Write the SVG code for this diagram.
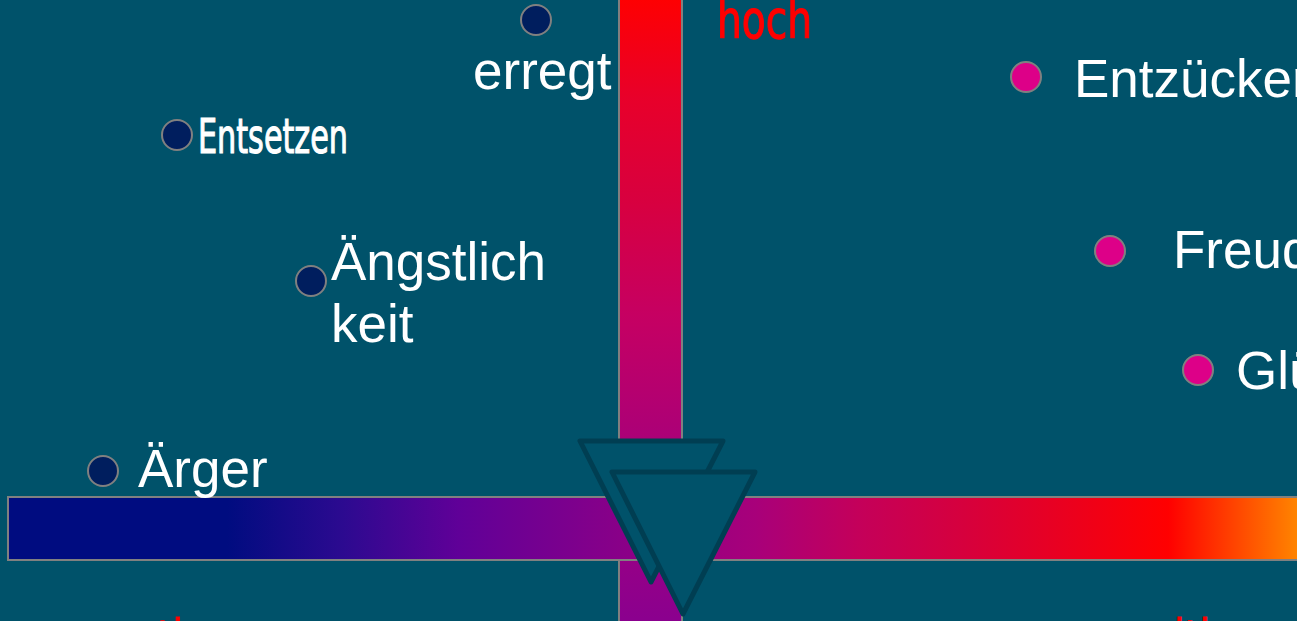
<svg xmlns="http://www.w3.org/2000/svg" width="1297" height="621" viewBox="0 0 1297 621">
<defs>
<linearGradient id="gv" x1="0" y1="0" x2="0" y2="1">
<stop offset="0" stop-color="#FF0000"/>
<stop offset="0.16" stop-color="#E8002A"/>
<stop offset="0.32" stop-color="#D8003F"/>
<stop offset="0.5" stop-color="#C60062"/>
<stop offset="0.7" stop-color="#AA0078"/>
<stop offset="1" stop-color="#880090"/>
</linearGradient>
<linearGradient id="gh" gradientUnits="userSpaceOnUse" x1="8" y1="0" x2="1297" y2="0">
<stop offset="0" stop-color="#000C80"/>
<stop offset="0.17" stop-color="#000C80"/>
<stop offset="0.26" stop-color="#2C0A90"/>
<stop offset="0.35" stop-color="#600098"/>
<stop offset="0.46" stop-color="#84008A"/>
<stop offset="0.58" stop-color="#A8007A"/>
<stop offset="0.66" stop-color="#C4005A"/>
<stop offset="0.75" stop-color="#D8003A"/>
<stop offset="0.9" stop-color="#FF0000"/>
<stop offset="1" stop-color="#FF8400"/>
</linearGradient>
<style>
.lbl{font-family:"Liberation Sans",Arial,sans-serif;font-size:53px;fill:#FFFFFF}
.cond{font-family:"DejaVu Sans Condensed","DejaVu Sans",sans-serif;font-stretch:condensed;font-weight:normal;stroke-width:1.1}
.red{fill:#FF0000;stroke:#FF0000}
.wht{fill:#FFFFFF;stroke:#FFFFFF}
.neg{fill:#001E5E;stroke:#808080;stroke-width:2}
.pos{fill:#DD0088;stroke:#808080;stroke-width:2}
.bar{stroke:#808080;stroke-width:2}
.tri{fill:#00526A;stroke:#003E52;stroke-width:5;stroke-linejoin:round}
</style>
</defs>
<rect x="0" y="0" width="1297" height="621" fill="#00526A"/>
<g id="connectors">
<rect class="bar" x="619" y="-5" width="63" height="640" fill="url(#gv)"/>
<rect class="bar" x="8" y="497" width="1300" height="63" fill="url(#gh)"/>
<polygon class="tri" points="580,441 723,441 651,582"/>
<polygon class="tri" points="612,472 755,472 683,614"/>
</g>
<g id="axis-hoch"><text class="cond red" x="717" y="38" font-size="54" textLength="95" lengthAdjust="spacingAndGlyphs">hoch</text></g>
<g id="axis-negativ"><text class="cond red" x="61" y="658" font-size="54" textLength="145" lengthAdjust="spacingAndGlyphs">negativ</text></g>
<g id="axis-positiv"><text class="cond red" x="1106" y="658" font-size="54" textLength="127" lengthAdjust="spacingAndGlyphs">positiv</text></g>
<g id="erregt"><circle class="neg" cx="536" cy="20" r="15"/><text class="lbl" x="473" y="89">erregt</text></g>
<g id="entsetzen"><circle class="neg" cx="177" cy="135" r="15"/><text class="cond wht" x="198" y="153" font-size="48" textLength="150" lengthAdjust="spacingAndGlyphs">Entsetzen</text></g>
<g id="aengstlichkeit"><circle class="neg" cx="311" cy="281" r="15"/><text class="lbl" x="331" y="280">Ängstlich</text><text class="lbl" x="331" y="342">keit</text></g>
<g id="aerger"><circle class="neg" cx="103" cy="471" r="15"/><text class="lbl" x="138" y="487">Ärger</text></g>
<g id="entzuecken"><circle class="pos" cx="1026" cy="77" r="15"/><text class="lbl" x="1074" y="97">Entzücken</text></g>
<g id="freude"><circle class="pos" cx="1110" cy="251" r="15"/><text class="lbl" x="1173" y="268">Freude</text></g>
<g id="glueck"><circle class="pos" cx="1198" cy="370" r="15"/><text class="lbl" x="1236" y="389">Glück</text></g>
</svg>
